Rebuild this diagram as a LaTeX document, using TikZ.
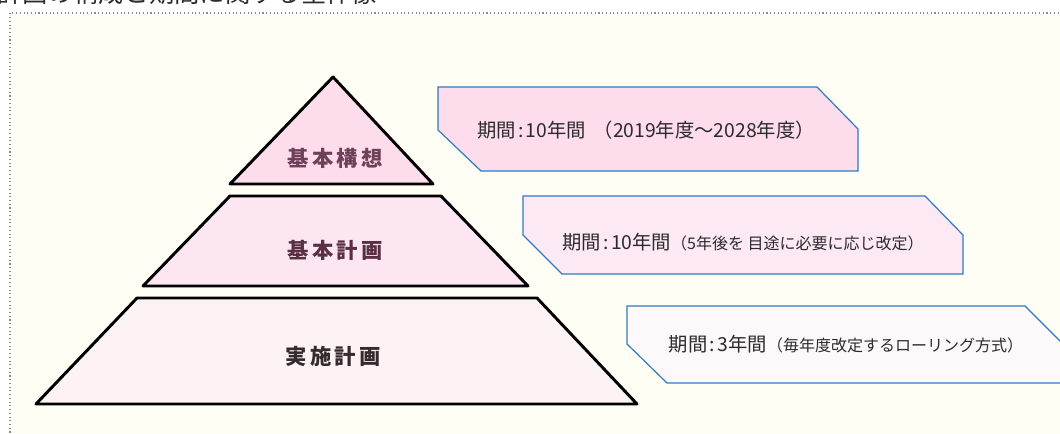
\documentclass[tikz,border=0pt]{standalone}
\usepackage{fontspec}
\setmainfont{Noto Sans CJK JP}
\newfontfamily\jplab[LetterSpace=15]{Noto Sans CJK JP}
\definecolor{panelbg}{HTML}{FEFEF5}
\definecolor{panelline}{HTML}{8A8A8A}
\definecolor{pinkA}{HTML}{FDDCEB}
\definecolor{pinkB}{HTML}{FCE6F1}
\definecolor{pinkC}{HTML}{FDF3F5}
\definecolor{boxA}{HTML}{FDDCEB}
\definecolor{boxB}{HTML}{FCE9F4}
\definecolor{boxC}{HTML}{FDF8FA}
\definecolor{calloutline}{HTML}{2E7BC4}
\definecolor{labA}{HTML}{6E4158}
\definecolor{labB}{HTML}{5A3040}
\definecolor{labC}{HTML}{352A2D}
\definecolor{txt}{HTML}{2B2B2B}
\tikzset{
  tier/.style={draw=black, line width=2.2pt, line join=round},
  tierlabel/.style={font=\jplab\bfseries\fontsize{16}{18}\selectfont, inner sep=0pt},
  callout/.style={draw=calloutline, line width=0.9pt, line join=miter},
  callouttext/.style={font=\fontsize{14.5}{17}\selectfont, text=txt, inner sep=0pt},
}
\newcommand{\colonsp}{\hspace{0.12em}:\hspace{0.12em}}
\newcommand{\smalltxt}[1]{{\fontsize{12}{14}\selectfont #1}}
\begin{document}
\begin{tikzpicture}[x=0.75pt,y=-0.75pt]
\useasboundingbox (0,0) rectangle (1060,434);
% title (cut off at the top)
\node[anchor=base west, inner sep=0pt, text=txt, font=\fontsize{19}{20}\selectfont] (title) at (-3,3) {計画の構成と期間に関する全体像};
% panel
\fill[panelbg] (10,13) rectangle (1070,440);
\draw[panelline, line width=0.8pt, dotted] (10,440) -- (10,13) -- (1070,13);
% pyramid
\draw[tier, fill=pinkA] (333,77) -- (433,184) -- (230,184) -- cycle;
\node[tierlabel, text=labA] (kousou) at (335,158) {基本構想};
\draw[tier, fill=pinkB] (230,196) -- (441,196) -- (528,286) -- (143,286) -- cycle;
\node[tierlabel, text=labB] (kihon) at (335,250) {基本計画};
\draw[tier, fill=pinkC] (137,298) -- (537,298) -- (637,404) -- (36,404) -- cycle;
\node[tierlabel, text=labC] (jisshi) at (333,356) {実施計画};
% callouts
\draw[callout, fill=boxA] (438,87) -- (817,87) -- (858,129) -- (858,171) -- (481,171) -- (438,130) -- cycle;
\node[callouttext] (t1) at (646,130) {期間\colonsp 10年間\hspace{0.4em}（2019年度～2028年度）};
\draw[callout, fill=boxB] (523,196) -- (925,196) -- (963,235) -- (963,274) -- (562,274) -- (523,235) -- cycle;
\node[callouttext] (t2) at (743,242) {期間\colonsp 10年間\smalltxt{（5年後を 目途に必要に応じ改定）}};
\draw[callout, fill=boxC] (627,306) -- (1025,306) -- (1065,346) -- (1065,383) -- (667,383) -- (627,344) -- cycle;
\node[callouttext] (t3) at (846,344) {期間\colonsp 3年間\smalltxt{（毎年度改定するローリング方式）}};
\end{tikzpicture}
\end{document}
